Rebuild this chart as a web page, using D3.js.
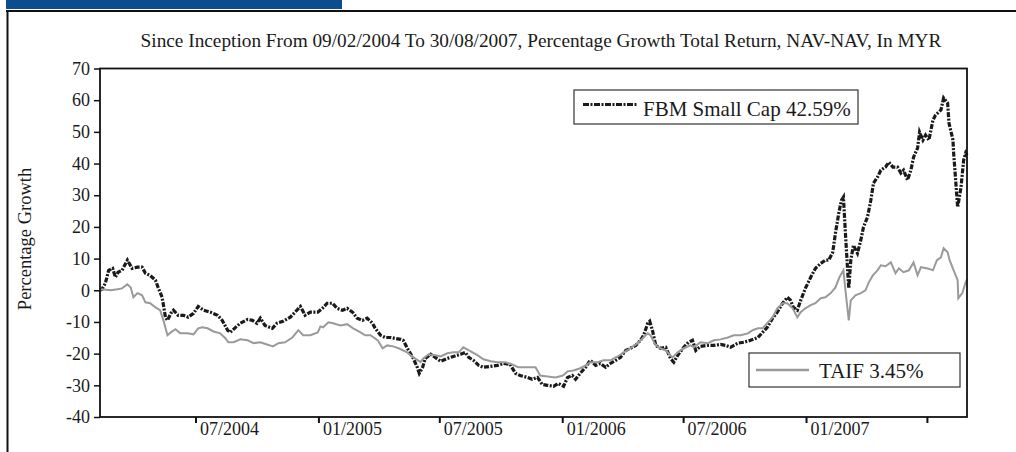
<!DOCTYPE html>
<html>
<head>
<meta charset="utf-8">
<script src="https://cdn.jsdelivr.net/npm/d3@7"></script>
<style>
  body { margin: 0; background: #fff; }
  svg { display: block; }
  text { font-family: "Liberation Serif", "Times New Roman", serif; fill: #1a1a1a; }
</style>
</head>
<body>
<script>
// FBM Small Cap (fecha, % crecimiento)
var fbmFechas = ["2004-02-09","2004-02-12","2004-02-17","2004-02-22","2004-02-28","2004-03-03","2004-03-07","2004-03-13","2004-03-21","2004-03-28",
  "2004-04-05","2004-04-12","2004-04-17","2004-04-24","2004-05-02","2004-05-06","2004-05-12","2004-05-17","2004-05-20","2004-05-25",
  "2004-05-29","2004-06-05","2004-06-13","2004-06-20","2004-06-28","2004-07-05","2004-07-13","2004-07-23","2004-08-03","2004-08-10",
  "2004-08-18","2004-08-22","2004-08-30","2004-09-06","2004-09-17","2004-09-24","2004-10-01","2004-10-06","2004-10-13","2004-10-24",
  "2004-10-31","2004-11-09","2004-11-20","2004-11-27","2004-12-05","2004-12-12","2004-12-20","2004-12-31","2005-01-07","2005-01-14",
  "2005-01-22","2005-01-29","2005-02-06","2005-02-13","2005-02-21","2005-02-28","2005-03-08","2005-03-15","2005-03-23","2005-03-27",
  "2005-04-04","2005-04-11","2005-04-19","2005-04-26","2005-05-04","2005-05-08","2005-05-16","2005-05-23","2005-05-29","2005-06-01",
  "2005-06-06","2005-06-10","2005-06-18","2005-06-25","2005-07-03","2005-07-13","2005-07-22","2005-08-02","2005-08-09","2005-08-14",
  "2005-08-21","2005-08-29","2005-09-05","2005-09-16","2005-09-26","2005-10-05","2005-10-15","2005-10-23","2005-10-30","2005-11-10",
  "2005-11-17","2005-11-25","2005-12-02","2005-12-10","2005-12-19","2005-12-26","2006-01-03","2006-01-09","2006-01-16","2006-01-21",
  "2006-01-28","2006-02-05","2006-02-12","2006-02-20","2006-02-27","2006-03-07","2006-03-14","2006-03-22","2006-03-29","2006-04-06",
  "2006-04-13","2006-04-21","2006-04-28","2006-05-03","2006-05-09","2006-05-12","2006-05-16","2006-05-21","2006-05-28","2006-06-05",
  "2006-06-12","2006-06-17","2006-06-23","2006-07-02","2006-07-09","2006-07-15","2006-07-20","2006-07-27","2006-08-07","2006-08-16",
  "2006-08-26","2006-09-03","2006-09-10","2006-09-21","2006-09-30","2006-10-10","2006-10-21","2006-10-28","2006-11-04","2006-11-12",
  "2006-11-19","2006-11-27","2006-12-04","2006-12-09","2006-12-13","2006-12-19","2006-12-24","2006-12-31","2007-01-08","2007-01-15",
  "2007-01-23","2007-01-30","2007-02-04","2007-02-10","2007-02-14","2007-02-19","2007-02-23","2007-02-26","2007-03-01","2007-03-04",
  "2007-03-06","2007-03-09","2007-03-13","2007-03-19","2007-03-24","2007-03-28","2007-04-03","2007-04-08","2007-04-12","2007-04-18",
  "2007-04-23","2007-04-30","2007-05-05","2007-05-11","2007-05-18","2007-05-23","2007-05-27","2007-06-02","2007-06-07","2007-06-11",
  "2007-06-17","2007-06-20","2007-06-25","2007-06-29","2007-07-04","2007-07-10","2007-07-14","2007-07-22","2007-07-26","2007-08-01",
  "2007-08-03","2007-08-09","2007-08-10","2007-08-13","2007-08-16","2007-08-21","2007-08-25","2007-08-28","2007-08-30"]
var fbmValores = [0,0.3,2.2,6.3,6.9,4.1,5.7,6.3,9.5,6.9,
  7.3,7.3,5.4,4.7,3.2,0.9,-2.2,-8.5,-9.5,-7.3,
  -6.3,-7.9,-7.9,-8.5,-7.3,-5.1,-6.3,-6.9,-7.9,-9.5,
  -12.6,-13.3,-11.7,-10.4,-9.2,-9.5,-10.4,-8.8,-11.1,-12.0,
  -10.4,-9.8,-8.5,-6.9,-5.1,-7.9,-6.9,-6.9,-5.7,-4.1,
  -4.1,-5.7,-6.3,-5.7,-6.9,-8.8,-9.5,-8.8,-10.4,-12.0,
  -14.2,-14.9,-14.9,-15.2,-15.5,-15.8,-19.0,-21.5,-24.3,-26.2,
  -24.3,-21.5,-20.2,-21.2,-22.4,-21.5,-20.9,-20.2,-19.6,-21.2,
  -22.1,-23.7,-24.3,-24.0,-23.7,-23.1,-23.4,-26.2,-26.9,-27.5,
  -28.1,-27.5,-29.7,-30.0,-30.3,-29.4,-30.3,-27.5,-26.9,-28.1,
  -26.2,-24.3,-22.1,-23.7,-23.1,-24.3,-23.1,-22.1,-21.2,-19.0,
  -18.3,-17.4,-15.8,-14.2,-10.4,-9.8,-12.6,-17.4,-18.3,-18.0,
  -21.5,-22.7,-20.5,-18.0,-16.4,-15.8,-19.0,-17.7,-17.4,-17.4,
  -17.1,-17.4,-18.0,-16.7,-16.4,-15.8,-14.9,-13.3,-11.7,-8.8,
  -6.9,-4.1,-2.2,-3.2,-5.4,-6.3,-3.2,0.6,4.1,6.9,
  8.5,9.5,9.5,12.0,18.0,24.3,28.4,29.4,18.0,7.3,
  0.6,9.5,14.2,11.7,15.8,19.9,23.1,28.4,33.8,35.7,
  37.9,38.9,40.4,38.9,38.9,37.0,37.9,34.8,37.9,42.0,
  44.9,49.9,47.4,49.0,47.4,53.7,55.3,56.9,60.7,59.1,
  52.8,47.4,43.3,34.8,26.2,32.5,41.1,43.3,42.59]

// TAIF (fecha, % crecimiento)
var taifFechas = ["2004-02-09","2004-02-12","2004-02-25","2004-03-06","2004-03-13","2004-03-21","2004-03-26","2004-03-30","2004-04-05","2004-04-12",
  "2004-04-17","2004-04-24","2004-05-02","2004-05-09","2004-05-14","2004-05-20","2004-05-25","2004-06-01","2004-06-08","2004-06-19",
  "2004-06-28","2004-07-05","2004-07-11","2004-07-19","2004-07-28","2004-08-07","2004-08-15","2004-08-19","2004-08-27","2004-09-06",
  "2004-09-17","2004-09-26","2004-10-06","2004-10-16","2004-10-25","2004-11-02","2004-11-12","2004-11-23","2004-12-02","2004-12-09",
  "2004-12-20","2004-12-31","2005-01-04","2005-01-08","2005-01-16","2005-01-23","2005-02-03","2005-02-13","2005-02-22","2005-03-05",
  "2005-03-12","2005-03-20","2005-03-31","2005-04-07","2005-04-14","2005-04-23","2005-05-01","2005-05-14","2005-05-23","2005-06-03",
  "2005-06-07","2005-06-15","2005-06-25","2005-07-03","2005-07-13","2005-07-22","2005-07-30","2005-08-06","2005-08-17","2005-08-27",
  "2005-09-05","2005-09-16","2005-09-26","2005-10-08","2005-10-18","2005-10-27","2005-11-10","2005-11-22","2005-11-29","2005-12-10",
  "2005-12-22","2006-01-02","2006-01-09","2006-01-18","2006-01-28","2006-02-05","2006-02-12","2006-02-23","2006-03-04","2006-03-14",
  "2006-03-25","2006-04-03","2006-04-13","2006-04-24","2006-05-01","2006-05-09","2006-05-13","2006-05-21","2006-05-28","2006-06-05",
  "2006-06-15","2006-06-23","2006-07-02","2006-07-12","2006-07-17","2006-07-27","2006-08-07","2006-08-16","2006-08-26","2006-09-06",
  "2006-09-15","2006-09-25","2006-10-06","2006-10-13","2006-10-21","2006-10-28","2006-11-04","2006-11-12","2006-11-19","2006-11-27",
  "2006-12-04","2006-12-12","2006-12-19","2006-12-24","2006-12-31","2007-01-08","2007-01-15","2007-01-23","2007-01-30","2007-02-07",
  "2007-02-14","2007-02-20","2007-02-26","2007-03-01","2007-03-06","2007-03-09","2007-03-16","2007-03-24","2007-03-31","2007-04-05",
  "2007-04-11","2007-04-18","2007-04-23","2007-04-30","2007-05-08","2007-05-15","2007-05-20","2007-05-27","2007-06-04","2007-06-11",
  "2007-06-17","2007-06-22","2007-07-02","2007-07-10","2007-07-16","2007-07-22","2007-07-26","2007-08-01","2007-08-04","2007-08-10",
  "2007-08-16","2007-08-17","2007-08-23","2007-08-28","2007-08-30"]
var taifValores = [0,0.3,0,0.3,0.6,1.9,0.9,-2.2,-0.9,-1.6,
  -3.8,-4.1,-5.4,-6.3,-9.5,-14.2,-13.3,-12.3,-13.6,-13.6,
  -13.9,-12.0,-11.7,-12.0,-13.0,-13.6,-15.2,-16.4,-16.4,-15.5,
  -15.8,-16.7,-16.4,-17.1,-17.7,-16.7,-16.4,-14.9,-12.6,-14.2,
  -14.2,-13.3,-11.4,-11.7,-10.1,-10.4,-11.1,-10.7,-12.0,-13.3,
  -14.2,-14.2,-15.8,-18.3,-17.4,-17.7,-18.3,-19.6,-21.2,-22.7,
  -21.5,-20.2,-20.5,-20.9,-19.9,-19.6,-19.6,-18.0,-19.3,-20.5,
  -21.8,-22.4,-22.7,-22.7,-23.4,-24.3,-24.3,-24.3,-26.9,-27.2,
  -27.5,-26.9,-25.6,-25.3,-24.6,-23.7,-22.7,-22.7,-22.1,-22.1,
  -20.9,-19.6,-18.3,-16.7,-15.2,-13.6,-14.2,-17.4,-18.3,-19.0,
  -21.2,-19.6,-18.3,-17.4,-18.0,-16.4,-16.7,-15.8,-15.5,-14.9,
  -14.2,-14.2,-13.6,-12.6,-12.0,-12.0,-10.4,-8.5,-5.7,-4.1,
  -4.1,-5.7,-8.5,-6.9,-5.7,-4.7,-4.1,-2.5,-2.2,-0.9,
  0.9,4.1,6.3,0,-9.5,-3.2,-1.6,-0.9,0,2.5,
  4.7,6.3,7.9,7.6,8.8,5.4,6.9,5.7,6.3,8.8,
  4.7,7.3,6.9,6.3,9.5,10.4,13.3,12.0,9.5,6.3,
  3.2,-2.5,-0.9,2.5,3.45]

var ticksY = [-40,-30,-20,-10,0,10,20,30,40,50,60,70]
var ticksX = ["2004-07-01","2005-01-01","2005-07-01","2006-01-01","2006-07-01","2007-01-01","2007-07-01"]
var etiquetasX = ["07/2004","01/2005","07/2005","01/2006","07/2006","01/2007",""]
var titulo = "Since Inception From 09/02/2004 To 30/08/2007, Percentage Growth Total Return, NAV-NAV, In MYR"
var leyendaFBM = "FBM Small Cap 42.59%"
var leyendaTAIF = "TAIF 3.45%"

var parse = d3.timeParse("%Y-%m-%d")
var datosFBM = fbmFechas.map((f, i) => ({fecha: parse(f), valor: fbmValores[i]}))
var datosTAIF = taifFechas.map((f, i) => ({fecha: parse(f), valor: taifValores[i]}))

var W = 1016, H = 452
var margin = {top: 68.5, right: 49, bottom: 35, left: 100}

var svg = d3.select("body").append("svg")
    .attr("width", W)
    .attr("height", H)

// banda azul y marco exterior
svg.append("rect").attr("x", 6).attr("y", 0).attr("width", 336).attr("height", 9).attr("fill", "#0b4d8e")
svg.append("line").attr("x1", 6).attr("x2", W).attr("y1", 11).attr("y2", 11).attr("stroke", "#111").attr("stroke-width", 2)
svg.append("line").attr("x1", 7.5).attr("x2", 7.5).attr("y1", 10).attr("y2", H).attr("stroke", "#111").attr("stroke-width", 2)

var x = d3.scaleTime()
    .domain([parse("2004-02-09"), parse("2007-08-30")])
    .range([margin.left, W - margin.right])
var y = d3.scaleLinear()
    .domain([-40, 70])
    .range([417, margin.top])

// titulo
svg.append("text")
    .attr("x", 541)
    .attr("y", 47)
    .attr("text-anchor", "middle")
    .style("font-size", "19.3px")
    .text(titulo)

// eje Y
var ejeY = svg.append("g")
    .attr("transform", "translate(" + margin.left + ",0)")
    .call(d3.axisLeft(y).tickValues(ticksY).tickSize(6).tickPadding(4).tickFormat(d => String(d)))
ejeY.select(".domain").remove()
ejeY.selectAll("line").attr("stroke", "#111").attr("stroke-width", 1.5)
ejeY.selectAll("text").style("font-size", "18px").attr("fill", "#1a1a1a")

// eje X
var ejeX = svg.append("g")
    .attr("transform", "translate(0,417)")
    .call(d3.axisBottom(x).tickValues(ticksX.map(parse)).tickSize(6)
        .tickFormat((d, i) => etiquetasX[i]))
ejeX.select(".domain").remove()
ejeX.selectAll("line").attr("stroke", "#111").attr("stroke-width", 2)
ejeX.selectAll("text")
    .attr("text-anchor", "start")
    .attr("x", 4)
    .attr("y", 5)
    .attr("dy", "0.71em")
    .style("font-size", "18px")
    .attr("fill", "#1a1a1a")

svg.append("text")
    .attr("transform", "translate(31,239) rotate(-90)")
    .attr("text-anchor", "middle")
    .style("font-size", "18.5px")
    .text("Percentage Growth")

// lineas
var linea = d3.line()
    .x(d => x(d.fecha))
    .y(d => y(d.valor))

svg.append("path")
    .datum(datosFBM)
    .attr("fill", "none")
    .attr("stroke", "#1a1a1a")
    .attr("stroke-width", 3.2)
    .attr("stroke-dasharray", "5,1.5,2,1.5")
    .attr("d", linea)

svg.append("path")
    .datum(datosTAIF)
    .attr("fill", "none")
    .attr("stroke", "#9a9a9a")
    .attr("stroke-width", 2)
    .attr("d", linea)

// marco del grafico
svg.append("rect")
    .attr("x", margin.left)
    .attr("y", margin.top)
    .attr("width", x.range()[1] - margin.left)
    .attr("height", 417 - margin.top)
    .attr("fill", "none")
    .attr("stroke", "#111")
    .attr("stroke-width", 1.8)

// leyendas
var leg1 = svg.append("g").attr("transform", "translate(574,90)")
leg1.append("rect").attr("width", 284).attr("height", 34).attr("fill", "#fff").attr("stroke", "#333").attr("stroke-width", 1.2)
leg1.append("line").attr("x1", 9).attr("x2", 63).attr("y1", 14.5).attr("y2", 14.5)
    .attr("stroke", "#1a1a1a").attr("stroke-width", 3.2).attr("stroke-dasharray", "6,1.5,2,1.5")
leg1.append("text").attr("x", 69).attr("y", 25.5).style("font-size", "21px").text(leyendaFBM)

var leg2 = svg.append("g").attr("transform", "translate(749,353)")
leg2.append("rect").attr("width", 211).attr("height", 34).attr("fill", "#fff").attr("stroke", "#333").attr("stroke-width", 1.2)
leg2.append("line").attr("x1", 7).attr("x2", 60).attr("y1", 17).attr("y2", 17)
    .attr("stroke", "#9a9a9a").attr("stroke-width", 2.5)
leg2.append("text").attr("x", 70).attr("y", 24.5).style("font-size", "21px").text(leyendaTAIF)
</script>
</body>
</html>
